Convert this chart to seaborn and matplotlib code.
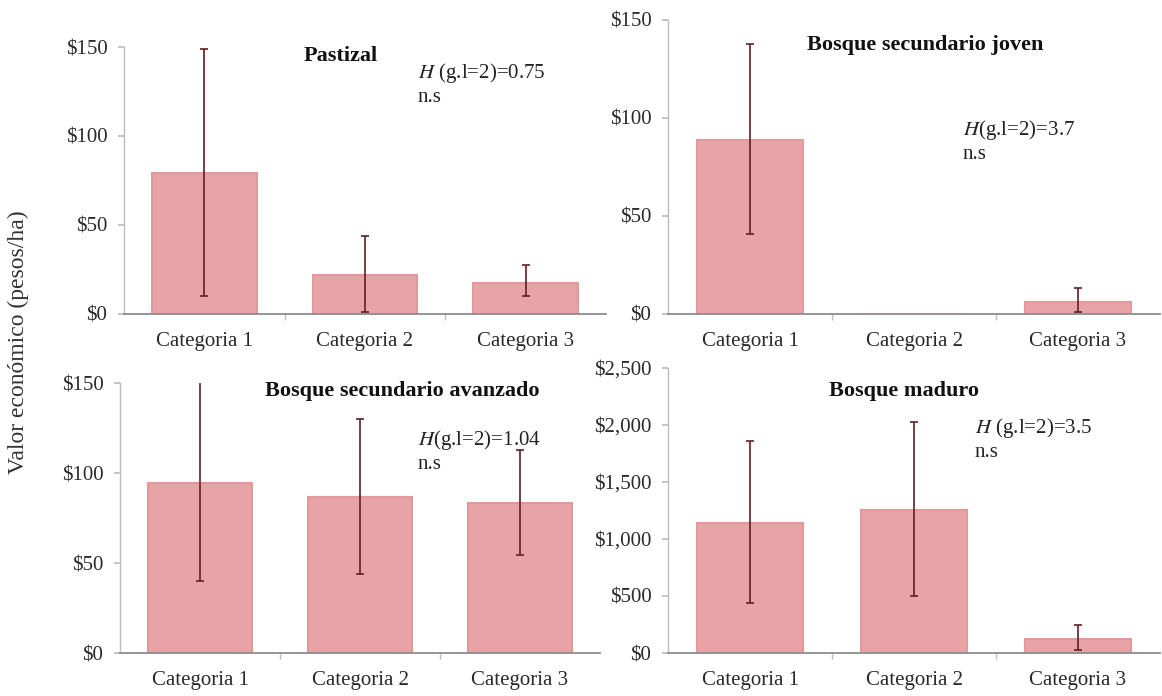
import numpy as np
import pandas as pd
import matplotlib
matplotlib.use("Agg")
import matplotlib.pyplot as plt
import seaborn as sns
from matplotlib.ticker import FuncFormatter

sns.set_theme(style="white")
plt.rcParams['font.family'] = ['Liberation Serif', 'DejaVu Serif']
plt.rcParams['mathtext.fontset'] = 'stix'

categories = ["Categoria 1", "Categoria 2", "Categoria 3"]

titles = ["Pastizal", "Bosque secundario joven",
          "Bosque secundario avanzado", "Bosque maduro"]
h_values = ["0.75", "3.7", "1.04", "3.5"]
h_sep = [" ", "", "", " "]

pastizal_mean = [79, 22, 17.5]
pastizal_low = [10, 1, 10]
pastizal_high = [149, 44, 27.5]

joven_mean = [89, 0, 6]
joven_low = [41, 0, 1]
joven_high = [138, 0, 13.5]

avanzado_mean = [94.5, 86.5, 83.5]
avanzado_low = [40, 44, 54.5]
avanzado_high = [151, 130, 113]

maduro_mean = [1140, 1255, 127]
maduro_low = [442, 503, 25]
maduro_high = [1860, 2025, 245]

ymax = [150, 150, 150, 2500]
yticks_step = [50, 50, 50, 500]

W, H = 1162, 696
fig = plt.figure(figsize=(W / 100, H / 100), dpi=100)

# pixel boxes: left, right, top(ymax), bottom(0)
boxes = [(124, 606, 47, 314), (668, 1160, 20, 314),
         (120, 600, 383, 653), (668, 1160, 368, 653)]
title_pos = [(341, 56), (925, 45), (402, 391), (904, 391)]
h_pos = [(418, 61), (963, 118), (418, 428), (975, 416)]

series = [(pastizal_mean, pastizal_low, pastizal_high),
          (joven_mean, joven_low, joven_high),
          (avanzado_mean, avanzado_low, avanzado_high),
          (maduro_mean, maduro_low, maduro_high)]

bar_color = "#E8A3A6"
edge_color = "#E3989D"
err_color = "#5E1F24"

for i, (box, (mean, low, high)) in enumerate(zip(boxes, series)):
    l, r, t, b = box
    ax = fig.add_axes([l / W, 1 - b / H, (r - l) / W, (b - t) / H])
    df = pd.DataFrame({"cat": categories, "val": mean})
    sns.barplot(data=df, x="cat", y="val", ax=ax, color=bar_color,
                width=0.65, edgecolor=edge_color, linewidth=1.5, saturation=1)
    mean_a = np.array(mean, dtype=float)
    yerr = [mean_a - np.array(low), np.array(high) - mean_a]
    mask = mean_a > 0
    ax.errorbar(np.arange(3)[mask], mean_a[mask],
                yerr=[yerr[0][mask], yerr[1][mask]], fmt="none",
                ecolor=err_color, elinewidth=1.2, capsize=3, capthick=1.2)
    ax.set_ylim(0, ymax[i])
    ax.set_xlim(-0.5, 2.5)
    ax.set_yticks(np.arange(0, ymax[i] + 1, yticks_step[i]))
    ax.yaxis.set_major_formatter(FuncFormatter(lambda v, p: "${:,.0f}".format(v)))
    ax.set_xlabel("")
    ax.set_ylabel("")
    for s in ["top", "right"]:
        ax.spines[s].set_visible(False)
    ax.spines["left"].set_color("#BDBDBD")
    ax.spines["bottom"].set_color("#8C8C8C")
    ax.spines["left"].set_linewidth(1.0)
    ax.spines["bottom"].set_linewidth(1.3)
    ax.tick_params(axis="y", labelsize=15, colors="#2a2a2a", length=4,
                   left=True, color="#BDBDBD", pad=8)
    ax.tick_params(axis="x", labelsize=15, colors="#2a2a2a", length=0, pad=13)
    ax.set_xticks([0.5, 1.5], minor=True)
    ax.tick_params(axis="x", which="minor", length=4, color="#BDBDBD", bottom=True)
    ax.patch.set_alpha(0)

    tx, ty = title_pos[i]
    fig.text(tx / W, 1 - ty / H, titles[i], ha="center", va="center",
             fontsize=16, fontweight="bold", color="#111111")
    hx, hy = h_pos[i]
    fig.text(hx / W, 1 - hy / H,
             r"$\mathit{H}$" + h_sep[i] + "(g.l=2)=" + h_values[i] + "\nn.s",
             ha="left", va="top", fontsize=15, color="#222222",
             linespacing=1.2)

fig.text(18 / W, 1 - 342 / H, "Valor económico (pesos/ha)", rotation=90,
         ha="center", va="center", fontsize=17, color="#333333")

fig.savefig("out.png", dpi=100, facecolor="white")
